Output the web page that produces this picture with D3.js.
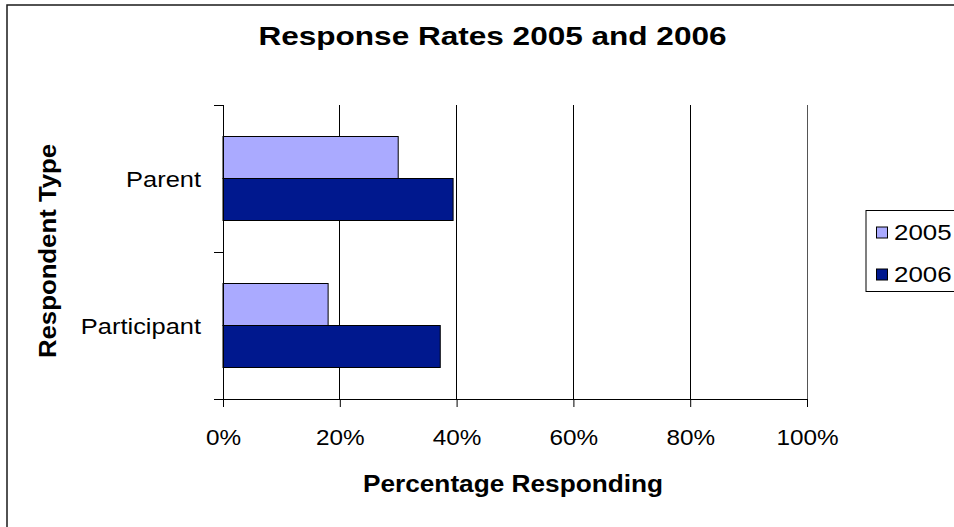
<!DOCTYPE html>
<html>
<head>
<meta charset="utf-8">
<script src="https://cdn.jsdelivr.net/npm/d3@7"></script>
<style>
  html, body { margin: 0; padding: 0; background: #fff; overflow: hidden; }
  svg { display: block; font-family: "Liberation Sans", Arial, sans-serif; }
</style>
</head>
<body>
<svg id="chart" width="954" height="527"></svg>
<script>
const categories = ["Parent", "Participant"];
const seriesNames = ["2005", "2006"];
const values2005 = [0.30, 0.18];
const values2006 = [0.394, 0.372];
const xTicks = [0, 0.2, 0.4, 0.6, 0.8, 1.0];
const colors = ["#AAAAFF", "#00188E"];

const title = "Response Rates 2005 and 2006";
const xTitle = "Percentage Responding";
const yTitle = "Respondent Type";

const seriesValues = [values2005, values2006];
const data = categories.map((c, i) => ({
  cat: c,
  vals: seriesNames.map((s, j) => ({ series: s, value: seriesValues[j][i], color: colors[j] }))
}));

const svg = d3.select("#chart");
const W = 954, H = 527;
const plot = { left: 223, right: 807, top: 105, bottom: 399 };
const STRETCH = 1.15;

function stretch(sel, k) {
  sel.each(function () {
    const w = this.getComputedTextLength();
    this.setAttribute("textLength", w * k);
    this.setAttribute("lengthAdjust", "spacingAndGlyphs");
  });
}

// outer chart border
svg.append("rect")
  .attr("x", 7).attr("y", 5).attr("width", 1000).attr("height", 1000)
  .attr("fill", "#fff").attr("stroke", "#1a1a1a").attr("stroke-width", 1.5);

const x = d3.scaleLinear().domain([0, 1]).range([plot.left, plot.right]);
const y = d3.scaleBand().domain(categories).range([plot.top, plot.bottom]).padding(0);
const yInner = d3.scaleBand().domain(seriesNames).range([0, y.bandwidth()])
  .paddingInner(0).paddingOuter(0.75);

// gridlines
svg.append("g")
  .selectAll("line").data(xTicks.filter(t => t > 0)).join("line")
  .attr("x1", d => x(d)).attr("x2", d => x(d))
  .attr("y1", plot.top).attr("y2", plot.bottom)
  .attr("stroke", (d) => d === 1 ? "#555" : "#000").attr("stroke-width", 1)
  .attr("shape-rendering", "crispEdges");

// bars
const groups = svg.append("g").selectAll("g").data(data).join("g")
  .attr("transform", d => `translate(0,${y(d.cat)})`);
groups.selectAll("rect").data(d => d.vals).join("rect")
  .attr("x", x(0))
  .attr("y", d => yInner(d.series))
  .attr("width", d => x(d.value) - x(0))
  .attr("height", yInner.bandwidth())
  .attr("fill", d => d.color)
  .attr("stroke", "#000").attr("stroke-width", 1);

// x axis
const xAxis = d3.axisBottom(x).tickValues(xTicks).tickFormat(d3.format(".0%"))
  .tickSizeInner(8).tickSizeOuter(0).tickPadding(20);
const gx = svg.append("g").attr("transform", `translate(0,${plot.bottom})`).call(xAxis);
gx.select(".domain").attr("stroke", "#000");
gx.selectAll(".tick line").attr("stroke", "#000");
gx.select(".domain").attr("d", `M${plot.left - 9},0.5H${plot.right}`);
gx.selectAll(".tick text")
  .attr("font-size", 22.5).attr("fill", "#000")
  .attr("font-family", "'Liberation Sans', Arial, sans-serif")
  .attr("dy", null).attr("y", 46)
  .call(stretch, 1.08);

// y axis line and ticks at band boundaries
const boundaries = [plot.top, ...categories.slice(1).map(c => y(c)), plot.bottom];
svg.append("line")
  .attr("x1", plot.left).attr("x2", plot.left)
  .attr("y1", plot.top).attr("y2", plot.bottom + 8)
  .attr("stroke", "#000").attr("shape-rendering", "crispEdges");
svg.append("g").selectAll("line").data(boundaries).join("line")
  .attr("x1", plot.left - 9).attr("x2", plot.left)
  .attr("y1", d => d).attr("y2", d => d)
  .attr("stroke", "#000").attr("shape-rendering", "crispEdges");

// y category labels
svg.append("g").selectAll("text").data(categories).join("text")
  .attr("x", 201)
  .attr("y", d => y(d) + y.bandwidth() / 2 + 8)
  .attr("text-anchor", "end")
  .attr("font-size", 22.5).attr("fill", "#000")
  .text(d => d)
  .call(stretch, 1.13);

// title
svg.append("text")
  .attr("x", 492.5).attr("y", 45)
  .attr("text-anchor", "middle")
  .attr("font-size", 26.5).attr("font-weight", "bold")
  .text(title)
  .call(stretch, 1.19);

// x axis title
svg.append("text")
  .attr("x", 513).attr("y", 491.5)
  .attr("text-anchor", "middle")
  .attr("font-size", 23).attr("font-weight", "bold")
  .text(xTitle)
  .call(stretch, 1.14);

// y axis title
svg.append("text")
  .attr("transform", "translate(56,251) rotate(-90)")
  .attr("text-anchor", "middle")
  .attr("font-size", 23).attr("font-weight", "bold")
  .text(yTitle)
  .call(stretch, 1.12);

// legend
const legend = svg.append("g");
legend.append("rect")
  .attr("x", 866).attr("y", 210.5).attr("width", 200).attr("height", 81)
  .attr("fill", "#fff").attr("stroke", "#000").attr("stroke-width", 1);
const li = legend.selectAll("g").data(seriesNames).join("g")
  .attr("transform", (d, i) => `translate(0,${i * 42})`);
li.append("rect")
  .attr("x", 876.5).attr("y", 227).attr("width", 11).attr("height", 11)
  .attr("fill", (d, i) => colors[i]).attr("stroke", "#000").attr("stroke-width", 1);
li.append("text")
  .attr("x", 894).attr("y", 239.5)
  .attr("font-size", 22.5).attr("fill", "#000")
  .text(d => d)
  .call(stretch, 1.15);
</script>
</body>
</html>
